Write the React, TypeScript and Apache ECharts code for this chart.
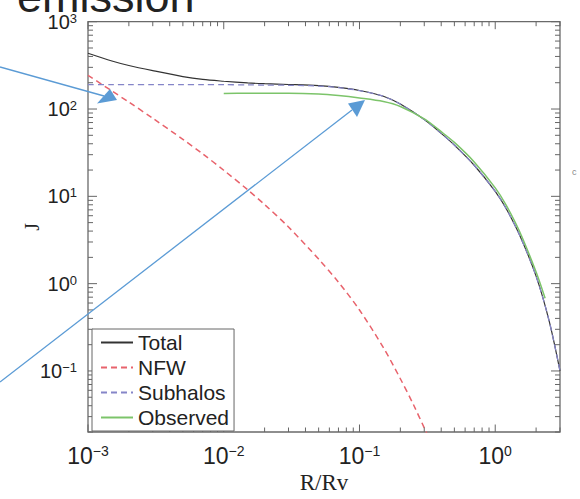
import React, { useEffect, useRef } from "react";
import * as echarts from "echarts";

// ---- data ----
const R_MAIN = [0.001, 0.0015, 0.002, 0.003, 0.005, 0.007, 0.01, 0.015, 0.02, 0.03, 0.05, 0.07, 0.1, 0.15, 0.2, 0.3, 0.4, 0.5, 0.7, 1.0, 1.2, 1.5, 2.0, 2.5, 3.0];
const TOTAL = [435, 355, 315, 275, 235, 218, 208, 199, 195, 191, 185, 177, 163, 140, 114, 75.7, 52.6, 38.6, 22.7, 11.4, 7.3, 3.7, 1.22, 0.37, 0.1];
const SUBHALOS = [190, 190, 190, 190, 190, 190, 190, 189, 188, 187, 183, 176, 162.5, 139.8, 113.9, 75.7, 52.6, 38.6, 22.7, 11.4, 7.3, 3.7, 1.22, 0.37, 0.1];

const R_NFW = [0.001, 0.0015, 0.002, 0.003, 0.005, 0.007, 0.01, 0.015, 0.02, 0.03, 0.05, 0.07, 0.1, 0.15, 0.2, 0.25, 0.3, 0.32];
const NFW = [243, 161, 120, 78.3, 44.9, 30.6, 19.9, 11.9, 8.04, 4.45, 1.91, 1.04, 0.499, 0.185, 0.0815, 0.041, 0.0223, 0.018];

const R_OBS = [0.01, 0.015, 0.02, 0.03, 0.05, 0.07, 0.1, 0.15, 0.2, 0.3, 0.4, 0.5, 0.7, 1.0, 1.2, 1.5, 2.0, 2.33];
const OBSERVED = [151, 152, 152, 152, 149, 143, 134, 122, 107, 77, 55, 41.5, 24.8, 12.5, 8.0, 4.06, 1.36, 0.68];

const SERIES_NAMES = ["Total", "NFW", "Subhalos", "Observed"];
const X_MIN = 0.001;
const X_MAX = 3;
const Y_MIN = 0.02;
const Y_MAX = 1000;
const X_DECADES = [-3, -2, -1, 0];
const Y_DECADES = [-2, -1, 0, 1, 2, 3];
const MULTIPLIERS = [1, 2, 3, 4, 5, 6, 7, 8, 9];

const SANS = "'Liberation Sans', Arial, Helvetica, sans-serif";
const SERIF = "'Liberation Serif', 'Times New Roman', serif";

function pairs(xs: number[], ys: number[]) {
  return xs.map((x, i) => [x, ys[i]]);
}

function powerLabel(v: number) {
  const lg = Math.log10(v);
  const e = Math.round(lg);
  if (Math.abs(lg - e) > 1e-6) return "";
  const exp = e < 0 ? "\u2212" + Math.abs(e) : String(e);
  return "{b|10}{s|" + exp + "}";
}

function buildTicks() {
  const out: number[][] = [];
  for (const d of X_DECADES) {
    for (const m of MULTIPLIERS) {
      const v = m * Math.pow(10, d);
      if (v >= X_MIN * 0.999 && v <= X_MAX * 1.001) out.push([v, 1, 0, m === 1 ? 1 : 0]);
    }
  }
  for (const d of Y_DECADES) {
    for (const m of MULTIPLIERS) {
      const v = m * Math.pow(10, d);
      if (v >= Y_MIN * 0.999 && v <= Y_MAX * 1.001) out.push([0.01, v, 1, m === 1 ? 1 : 0]);
    }
  }
  return out;
}

export default function App() {
  const ref = useRef<HTMLDivElement>(null);

  useEffect(() => {
    if (!ref.current) return;
    const chart = echarts.init(ref.current, null, { renderer: "svg" });

    const tickColor = "#666";
    const lineSeries = (name: string, data: number[][], color: string, width: number, dash: any, z: number) => ({
      name,
      type: "line",
      data,
      showSymbol: false,
      symbol: "none",
      smooth: 0.3,
      lineStyle: { color, width, type: dash },
      itemStyle: { color, opacity: 0 },
      z,
    });

    const option: any = {
      animation: false,
      backgroundColor: "#fff",
      grid: {
        left: 88,
        right: 20,
        top: 21.7,
        bottom: 58,
        show: true,
        borderColor: "#6a6a6a",
        borderWidth: 1.3,
        backgroundColor: "transparent",
      },
      legend: {
        data: SERIES_NAMES,
        orient: "vertical",
        left: 92,
        top: 329,
        itemWidth: 32,
        itemHeight: 14,
        itemGap: 4,
        padding: [3, 5, 3, 8],
        borderColor: "#666",
        borderWidth: 1,
        backgroundColor: "#fff",
        itemStyle: { opacity: 0 },
        textStyle: { fontFamily: SANS, fontSize: 21, color: "#222", lineHeight: 21 },
        z: 20,
      },
      xAxis: {
        type: "log",
        logBase: 10,
        min: X_MIN,
        max: X_MAX,
        axisLine: { show: false },
        axisTick: { show: false },
        splitLine: { show: false },
        minorTick: { show: false },
        axisLabel: {
          margin: 12,
          formatter: (v: number) => powerLabel(v),
          rich: {
            b: { fontFamily: SANS, fontSize: 23, color: "#222", lineHeight: 24 },
            s: { fontFamily: SANS, fontSize: 14, color: "#222", lineHeight: 6, verticalAlign: "top" },
          },
        },
        name: "R/Rv",
        nameLocation: "middle",
        nameGap: 39,
        nameMoveOverlap: false,
        nameTextStyle: { fontFamily: SERIF, fontSize: 23, color: "#222" },
      },
      yAxis: {
        type: "log",
        logBase: 10,
        min: Y_MIN,
        max: Y_MAX,
        axisLine: { show: false },
        axisTick: { show: false },
        splitLine: { show: false },
        minorTick: { show: false },
        axisLabel: {
          margin: 11,
          formatter: (v: number) => powerLabel(v),
          rich: {
            b: { fontFamily: SANS, fontSize: 20, color: "#222", lineHeight: 20 },
            s: { fontFamily: SANS, fontSize: 13, color: "#222", lineHeight: 2, verticalAlign: "top" },
          },
        },
        name: "J",
        nameLocation: "middle",
        nameGap: 46,
        nameMoveOverlap: false,
        nameTextStyle: { fontFamily: SERIF, fontSize: 20, color: "#222" },
      },
      series: [
        lineSeries("Total", pairs(R_MAIN, TOTAL), "#333", 1.2, "solid", 2),
        lineSeries("NFW", pairs(R_NFW, NFW), "#e8636c", 1.5, [6, 4], 3),
        lineSeries("Subhalos", pairs(R_MAIN, SUBHALOS), "#8585c8", 1.3, [6, 4], 4),
        lineSeries("Observed", pairs(R_OBS, OBSERVED), "#7cc46a", 1.5, "solid", 5),
        {
          name: "ticks",
          type: "custom",
          silent: true,
          z: 10,
          data: buildTicks(),
          encode: { x: 0, y: 1 },
          renderItem: (params: any, api: any) => {
            const kind = api.value(2);
            const major = api.value(3) === 1;
            const style = { stroke: tickColor, lineWidth: 1 };
            if (kind === 0) {
              const v = api.value(0);
              const b = api.coord([v, Y_MIN]);
              const t = api.coord([v, Y_MAX]);
              const len = major ? 7.5 : 4.5;
              return {
                type: "group",
                children: [
                  { type: "line", shape: { x1: b[0], y1: b[1], x2: b[0], y2: b[1] - len }, style },
                  { type: "line", shape: { x1: t[0], y1: t[1], x2: t[0], y2: t[1] + len }, style },
                ],
              };
            }
            const v = api.value(1);
            const l = api.coord([X_MIN, v]);
            const r = api.coord([X_MAX, v]);
            const len = major ? 9 : 5;
            return {
              type: "group",
              children: [
                { type: "line", shape: { x1: l[0], y1: l[1], x2: l[0] + len, y2: l[1] }, style },
                { type: "line", shape: { x1: r[0], y1: r[1], x2: r[0] - len, y2: r[1] }, style },
              ],
            };
          },
        },
      ],
      graphic: [
        {
          type: "text",
          x: 17,
          y: -3.8,
          z: 100,
          style: { text: "emission", fontFamily: SANS, fontSize: 45, fill: "#222", verticalAlign: "middle" },
        },
        {
          type: "line",
          z: 100,
          shape: { x1: 0, y1: 67, x2: 104, y2: 96 },
          style: { stroke: "#5B9BD5", lineWidth: 1.3 },
        },
        {
          type: "polygon",
          z: 100,
          shape: { points: [[117, 100], [97, 103.5], [110, 89]] },
          style: { fill: "#5B9BD5" },
        },
        {
          type: "line",
          z: 100,
          shape: { x1: 0, y1: 382, x2: 352, y2: 110 },
          style: { stroke: "#5B9BD5", lineWidth: 1.3 },
        },
        {
          type: "polygon",
          z: 100,
          shape: { points: [[365, 100], [348, 103.5], [357, 117]] },
          style: { fill: "#5B9BD5" },
        },
        {
          type: "text",
          x: 572,
          y: 172,
          z: 100,
          style: { text: "c", fontFamily: SANS, fontSize: 9, fill: "#888", verticalAlign: "middle" },
        },
      ],
    };

    chart.setOption(option);
    return () => chart.dispose();
  }, []);

  return (
    <div
      ref={ref}
      style={{ position: "fixed", left: 0, top: 0, width: 580, height: 499, background: "#fff" }}
    />
  );
}
